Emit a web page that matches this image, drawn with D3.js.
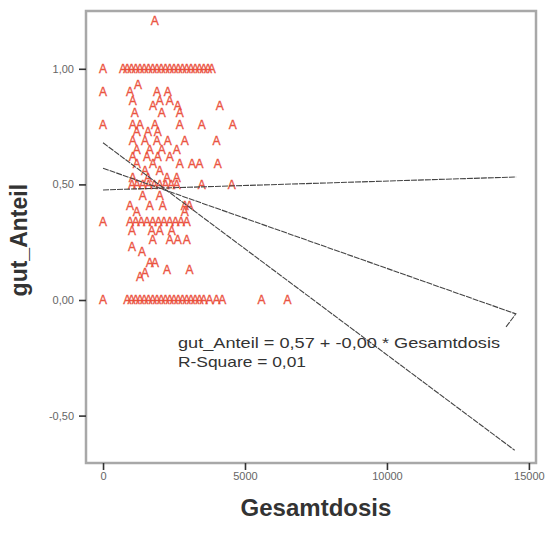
<!DOCTYPE html>
<html>
<head>
<meta charset="utf-8">
<script src="https://cdn.jsdelivr.net/npm/d3@7"></script>
<style>
  html, body { margin: 0; padding: 0; background: #fff; }
  svg { display: block; }
</style>
</head>
<body>
<svg id="chart" width="553" height="538"></svg>
<script>
// gut_Anteil values (one entry per row of points)
const shareLevels = [1.21, 1.00, 0.93, 0.90, 0.86, 0.84, 0.81, 0.76, 0.73, 0.69, 0.65, 0.62,
  0.59, 0.56, 0.53, 0.50, 0.45, 0.41, 0.38, 0.34, 0.30, 0.26, 0.23, 0.21, 0.16, 0.13, 0.12, 0.10, 0.00];

// Gesamtdosis values observed at each gut_Anteil level
const dosesPerLevel = [
  [1820],
  [0, 700, 850, 1000, 1150, 1300, 1450, 1600, 1750, 1900, 2050, 2200, 2350, 2500, 2650, 2800, 2950, 3100, 3250, 3400, 3550, 3700, 3830],
  [1230],
  [0, 950, 1900, 2280],
  [1050, 2000, 2350],
  [1760, 2630, 4110],
  [1120, 2070, 2700],
  [0, 1050, 1300, 1830, 2700, 3480, 4570],
  [1190, 1580, 1930],
  [1050, 1480, 1900, 2280, 2880, 4000],
  [1190, 1650, 2070, 2600],
  [1050, 1550, 1930, 2350],
  [1190, 1760, 2700, 3130, 3400, 4040],
  [1480, 2000],
  [1050, 1580, 2250, 2600],
  [1020, 1200, 1400, 1600, 1800, 2000, 2200, 2400, 2600, 3480, 4530],
  [1400, 2000],
  [950, 1650, 2100, 2880, 3050],
  [1190, 2880],
  [0, 950, 1150, 1350, 1550, 1750, 1950, 2150, 2350, 2550, 2750, 2950],
  [1020, 1720, 2000, 2420],
  [1750, 2350, 2630, 2950],
  [1020],
  [1370],
  [1650, 1830],
  [2250, 3050],
  [1480],
  [1300],
  [0, 850, 1000, 1150, 1300, 1450, 1600, 1750, 1900, 2050, 2200, 2350, 2500, 2650, 2800, 2950, 3100, 3250, 3400, 3550, 3750, 4000, 4200, 5580, 6500]
];

// Fitted lines (Gesamtdosis, gut_Anteil)
const fitLine = [[0, 0.57], [14540, -0.06], [14190, -0.117]];
const upperLine = [[0, 0.476], [14550, 0.532]];
const lowerLine = [[0, 0.68], [14500, -0.65]];

const xTicks = [0, 5000, 10000, 15000];
const yTicks = [1.0, 0.5, 0.0, -0.5];

const equationText = "gut_Anteil = 0,57 + -0,00 * Gesamtdosis";
const rSquareText = "R-Square = 0,01";

const svg = d3.select("#chart");
const font = "Liberation Sans, Arial, sans-serif";

const frame = { left: 86, right: 536, top: 11, bottom: 463 };

const x = d3.scaleLinear().domain([-600, 15250]).range([frame.left, frame.right]);
const y = d3.scaleLinear().domain([-0.705, 1.25]).range([frame.bottom, frame.top]);

const points = [];
shareLevels.forEach((s, i) => dosesPerLevel[i].forEach(d => points.push({ dose: d, share: s })));

// Plot frame
svg.append("rect")
  .attr("x", frame.left).attr("y", frame.top)
  .attr("width", frame.right - frame.left).attr("height", frame.bottom - frame.top)
  .attr("fill", "#fff").attr("stroke", "#a8a8a8").attr("stroke-width", 2.5);

const fmt = v => d3.format(".2f")(v).replace(".", ",").replace("−", "-");

// Y axis
const yAxis = svg.append("g")
  .attr("transform", `translate(${frame.left},0)`)
  .call(d3.axisLeft(y).tickValues(yTicks).tickSize(7).tickFormat(fmt));
yAxis.select(".domain").remove();
yAxis.selectAll(".tick line").attr("stroke", "#333").attr("stroke-width", 1.6);
yAxis.selectAll(".tick text")
  .attr("x", -12)
  .attr("fill", "#666").attr("font-family", font).attr("font-size", 11);

// X axis
const xAxis = svg.append("g")
  .attr("transform", `translate(0,${frame.bottom})`)
  .call(d3.axisBottom(x).tickValues(xTicks).tickSize(7).tickFormat(d3.format("d")));
xAxis.select(".domain").remove();
xAxis.selectAll(".tick line").attr("stroke", "#333").attr("stroke-width", 1.6);
xAxis.selectAll(".tick text")
  .attr("y", 9)
  .attr("fill", "#666").attr("font-family", font).attr("font-size", 11);

// Axis titles
svg.append("text")
  .attr("x", (x(0) + x(15000)) / 2).attr("y", 516)
  .attr("text-anchor", "middle")
  .attr("font-family", font).attr("font-weight", "bold")
  .attr("font-size", 24).attr("fill", "#333")
  .text("Gesamtdosis");

svg.append("text")
  .attr("transform", `translate(27,${y(0.25) - 2}) rotate(-90)`)
  .attr("text-anchor", "middle")
  .attr("font-family", font).attr("font-weight", "bold")
  .attr("font-size", 23).attr("fill", "#333")
  .text("gut_Anteil");

// Markers
svg.append("g").selectAll("text")
  .data(points)
  .join("text")
  .attr("x", d => x(d.dose))
  .attr("y", d => y(d.share))
  .attr("dy", "0.36em")
  .attr("text-anchor", "middle")
  .attr("font-family", font)
  .attr("font-size", 12)
  .attr("fill", "#ea4a36")
  .attr("stroke", "#ea4a36")
  .attr("stroke-width", 0.35)
  .attr("fill-opacity", 0.9)
  .text("A");

// Fit lines
const line = d3.line().x(d => x(d[0])).y(d => y(d[1]));
[fitLine, upperLine, lowerLine].forEach(pts => {
  svg.append("path")
    .attr("d", line(pts))
    .attr("fill", "none")
    .attr("stroke", "#444")
    .attr("stroke-width", 1.1)
    .attr("stroke-dasharray", "6,1");
});

// Equation annotation
const ann = svg.append("text")
  .attr("font-family", font)
  .attr("font-size", 15).attr("fill", "#333");
ann.append("tspan").attr("x", 178).attr("y", 348)
  .attr("textLength", 322).attr("lengthAdjust", "spacingAndGlyphs")
  .text(equationText);
ann.append("tspan").attr("x", 178).attr("y", 367)
  .attr("textLength", 128).attr("lengthAdjust", "spacingAndGlyphs")
  .text(rSquareText);
</script>
</body>
</html>
